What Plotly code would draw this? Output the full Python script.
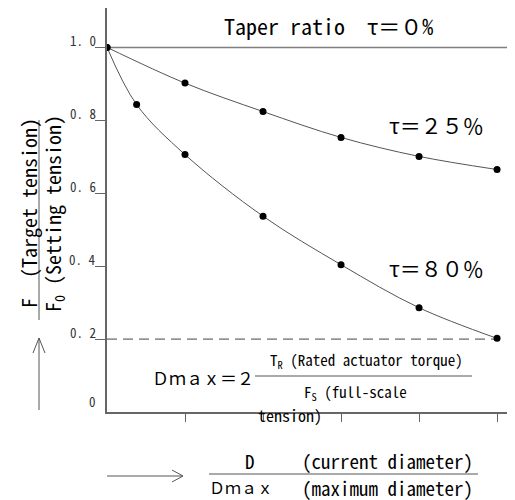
import plotly.graph_objects as go

# ---- data ----
x_steps = [0, 1, 2, 3, 4, 5]
tau25_x = [0, 1, 2, 3, 4, 5]
tau25_y = [1.0, 0.902, 0.824, 0.753, 0.701, 0.665]
tau80_x = [0, 0.38, 1, 2, 3, 4, 5]
tau80_y = [1.0, 0.843, 0.706, 0.537, 0.404, 0.286, 0.202]
tau0_y = 1.0
dash_y = 0.2
y_tick_vals = [0, 0.2, 0.4, 0.6, 0.8, 1.0]
y_tick_text = ["0", "0. 2", "0. 4", "0. 6", "0. 8", "1. 0"]
x_tick_vals = [1, 2, 3, 4, 5]

OFF = 8  # page body margin
W, H = 515 - OFF, 500 - OFF
ML, MR, MT, MB = 107 - OFF, 0, 0, 88
PW, PH = W - ML - MR, H - MT - MB
XMAX = 5.23
YMAX = 1.108

FONT = "Noto Sans Mono CJK JP, Noto Sans CJK JP, DejaVu Sans Mono"
LINE = "#555555"


def px(x):
    return (x - OFF - ML) / PW


def py(y):
    return (H - MB - (y - OFF)) / PH


fig = go.Figure()

# tau = 0 line
fig.add_trace(go.Scatter(x=[0, XMAX], y=[tau0_y, tau0_y], mode="lines",
                         line=dict(color="#808080", width=1.5), hoverinfo="skip"))
# dashed line at 0.2
fig.add_trace(go.Scatter(x=[0, x_steps[-1]], y=[dash_y, dash_y], mode="lines",
                         line=dict(color="#444444", width=1, dash="10px,6px"), hoverinfo="skip"))
# curves
for xs, ys in [(tau25_x, tau25_y), (tau80_x, tau80_y)]:
    fig.add_trace(go.Scatter(x=xs, y=ys, mode="lines",
                             line=dict(color="#555555", width=1, shape="spline", smoothing=1.0)))
    fig.add_trace(go.Scatter(x=xs, y=ys, mode="markers",
                             marker=dict(color="black", size=7)))

ann = []
# y tick labels
for v, t in zip(y_tick_vals, y_tick_text):
    shift = 11 if v == 0 else 7
    ann.append(dict(x=-0.022, y=v, xref="paper", yref="y", text=t, showarrow=False,
                    xanchor="right", yanchor="middle", yshift=shift,
                    font=dict(family=FONT, size=13, color="#333333")))


def text(xc, yc, t, size, angle=0):
    ann.append(dict(x=px(xc), y=py(yc), xref="paper", yref="paper", text=t,
                    showarrow=False, xanchor="center", yanchor="middle",
                    textangle=angle, font=dict(family=FONT, size=size, color="black")))


text(328, 25, "Taper ratio  τ＝０%", 22)
text(436, 125, "τ＝２５％", 21)
text(436, 268, "τ＝８０％", 21)
text(203, 377, "Ｄｍａｘ＝２", 17)
text(366, 360, "T<sub>R</sub> (Rated actuator torque)", 15)
text(355, 392, "F<sub>S</sub> (full-scale", 15)
text(290, 415, "tension)", 16)
text(250, 461, "D", 19)
text(387, 461, "(current diameter)", 19)
text(241, 487, "Ｄｍａｘ", 16)
text(387, 487, "(maximum diameter)", 19)
text(28, 213, "F  (Target tension)", 20, -90)
text(53, 214, "F<sub>0</sub> (Setting tension)", 20, -90)

shapes = []


def seg(x0, y0, x1, y1):
    shapes.append(dict(type="line", xref="paper", yref="paper",
                       x0=px(x0), y0=py(y0), x1=px(x1), y1=py(y1),
                       line=dict(color=LINE, width=1)))


# fraction lines
seg(39, 120, 39, 320)
seg(255, 376, 472, 376)
seg(209, 474, 478, 474)
# up arrow
seg(39, 410, 39, 338)
seg(33, 353, 39, 338)
seg(45, 353, 39, 338)
# right arrow
seg(107, 476, 183, 476)
seg(172, 470, 183, 476)
seg(172, 482, 183, 476)

fig.update_layout(
    width=W, height=H,
    margin=dict(l=ML, r=MR, t=MT, b=MB),
    paper_bgcolor="white", plot_bgcolor="white",
    showlegend=False,
    annotations=ann, shapes=shapes,
    xaxis=dict(range=[0, XMAX], showgrid=False, zeroline=False,
               showline=True, linecolor="#666666", linewidth=1.5,
               tickvals=x_tick_vals, ticks="outside", ticklen=8,
               tickcolor="#666666", tickwidth=1, showticklabels=False),
    yaxis=dict(range=[0, YMAX], showgrid=False, zeroline=False,
               showline=True, linecolor="#666666", linewidth=1.5,
               tickvals=y_tick_vals[1:], ticks="outside", ticklen=10,
               tickcolor="#666666", tickwidth=1, showticklabels=False),
)

fig.write_html("out.html")
